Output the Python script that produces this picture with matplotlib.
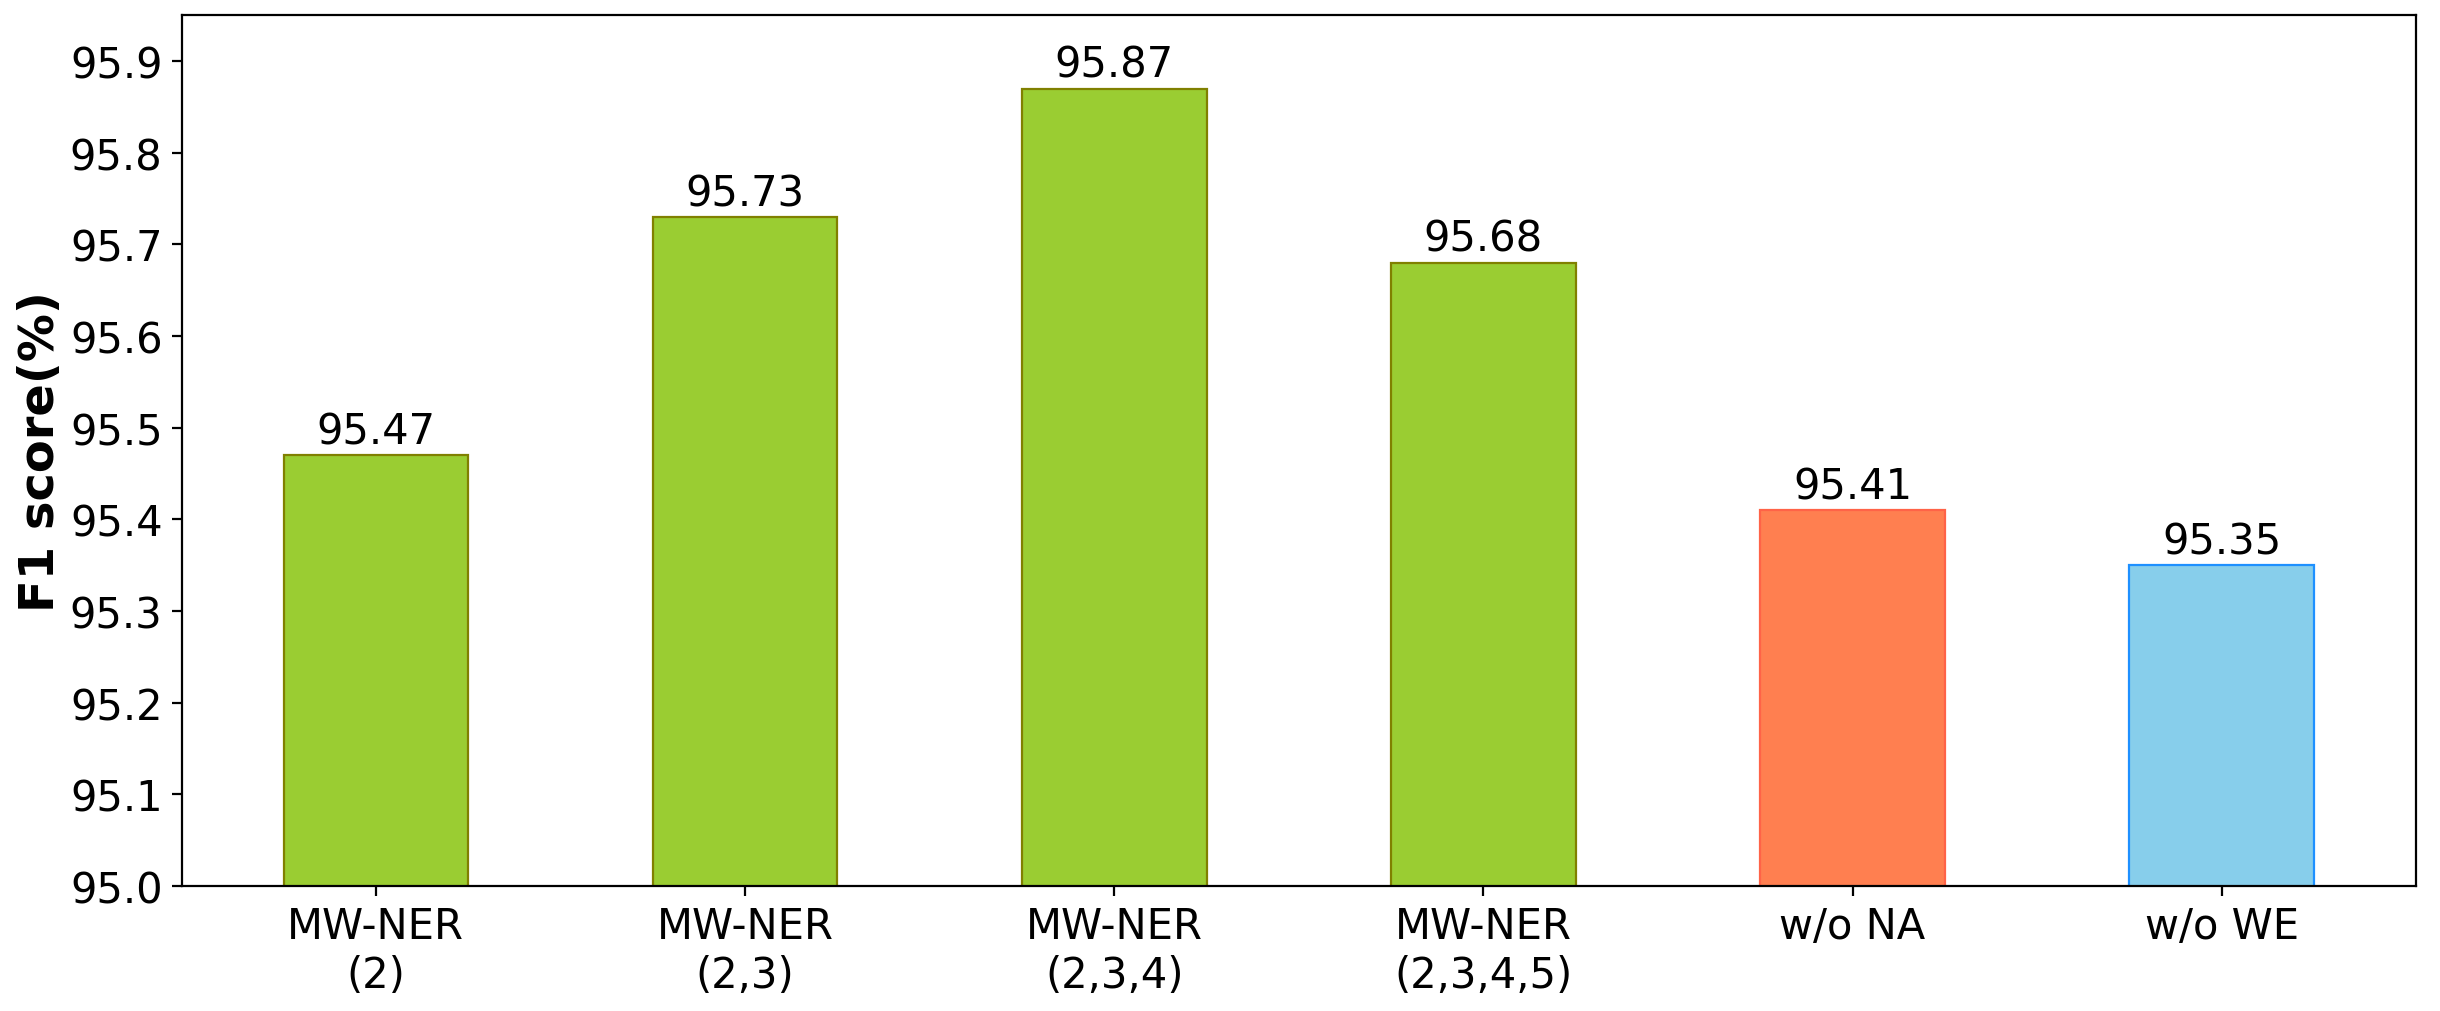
import matplotlib
matplotlib.use("Agg")
import matplotlib.pyplot as plt
import numpy as np

# data
labels = ['MW-NER\n(2)', 'MW-NER\n(2,3)', 'MW-NER\n(2,3,4)', 'MW-NER\n(2,3,4,5)', 'w/o NA', 'w/o WE']
scores = [95.47, 95.73, 95.87, 95.68, 95.41, 95.35]
colors = ['yellowgreen'] * 4 + ['coral', 'skyblue']
edges = ['olive'] * 4 + ['tomato', 'dodgerblue']
yticks = [95.0, 95.1, 95.2, 95.3, 95.4, 95.5, 95.6, 95.7, 95.8, 95.9]

fig = plt.figure(figsize=(12.2, 5.06), dpi=200)
ax = fig.add_axes([0.0746, 0.1235, 0.9154, 0.8605])

x = np.arange(len(labels))
bars = ax.bar(x, scores, width=0.5, color=colors, edgecolor=edges, linewidth=0.8)
ax.bar_label(bars, labels=[f'{s:.2f}' for s in scores], fontsize=15, padding=1)

ax.set_ylim(95.0, 95.95)
ax.set_yticks(yticks)
ax.set_yticklabels([f'{t:.1f}' for t in yticks])
ax.set_xticks(x)
ax.set_xticklabels(labels, fontsize=15)
ax.tick_params(axis='y', labelsize=15)
ax.set_ylabel('F1 score(%)', fontsize=17.3, fontweight='bold', labelpad=2)

plt.savefig('out.png', dpi=200)
